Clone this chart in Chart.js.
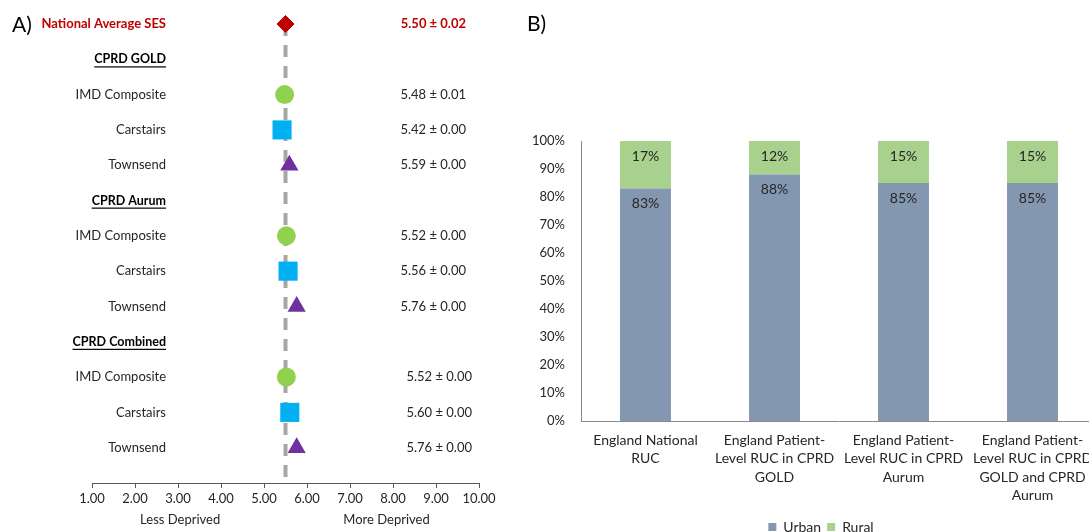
<!DOCTYPE html>
<html>
<head>
<meta charset="utf-8">
<script src="https://cdn.jsdelivr.net/npm/chart.js@4.4.1/dist/chart.umd.min.js"></script>
<style>
  html, body { margin: 0; padding: 0; background: #fff; overflow: hidden; }
  body { width: 1089px; height: 532px; position: relative; font-family: Lato, sans-serif; }
  .panel { position: absolute; top: 0; }
  #wrapA { left: 0; width: 500px; height: 532px; }
  #wrapB { left: 530px; width: 582px; height: 550px; }
  .tag { position: absolute; font: 21px Lato, sans-serif; color: #000; }
</style>
</head>
<body>
<div class="panel" id="wrapA"><canvas id="sesChart"></canvas></div>
<div class="panel" id="wrapB"><canvas id="rucChart"></canvas></div>
<div class="tag" style="left:12px; top:11px">A)</div>
<div class="tag" style="left:527px; top:10px">B)</div>
<script>
// ---- panel A data ----
const rowLabels = [
  "National Average SES",
  "CPRD GOLD", "IMD Composite", "Carstairs", "Townsend",
  "CPRD Aurum", "IMD Composite", "Carstairs", "Townsend",
  "CPRD Combined", "IMD Composite", "Carstairs", "Townsend",
];
const rowKinds = [
  "national",
  "header", "measure", "measure", "measure",
  "header", "measure", "measure", "measure",
  "header", "measure", "measure", "measure",
];
const sesMean = [5.50, null, 5.48, 5.42, 5.59, null, 5.52, 5.56, 5.76, null, 5.52, 5.60, 5.76];
const sesError = [0.02, null, 0.01, 0.00, 0.00, null, 0.00, 0.00, 0.00, null, 0.00, 0.00, 0.00];
const sesTicks = [1, 2, 3, 4, 5, 6, 7, 8, 9, 10];

// ---- panel B data ----
const rucCategories = [
  ["England National", "RUC"],
  ["England Patient-", "Level RUC in CPRD", "GOLD"],
  ["England Patient-", "Level RUC in CPRD", "Aurum"],
  ["England Patient-", "Level RUC in CPRD", "GOLD and CPRD", "Aurum"],
];
const urbanPct = [83, 88, 85, 85];
const ruralPct = [17, 12, 15, 15];
const pctTicks = [0, 10, 20, 30, 40, 50, 60, 70, 80, 90, 100];

Chart.defaults.font.family = "Lato, sans-serif";

// marker look for each measure
const measureStyle = {
  "IMD Composite": { shape: "circle", colour: "#92D050", radius: 9.5 },
  "Carstairs": { shape: "rect", colour: "#00B0F0", radius: 13.5 },
  "Townsend": { shape: "triangle", colour: "#7030A0", radius: 10.5 },
};

function pointsFor(name) {
  const pts = [];
  rowLabels.forEach((l, i) => {
    if (l === name && rowKinds[i] === "measure") pts.push({ x: sesMean[i], y: i });
  });
  return pts;
}

const nationalRow = rowKinds.indexOf("national");
const sesDatasets = [
  {
    label: rowLabels[nationalRow],
    data: [{ x: sesMean[nationalRow], y: nationalRow }],
    pointStyle: "rectRot", pointRadius: 8.5,
    backgroundColor: "#C00000", borderColor: "#C00000",
  },
];
Object.keys(measureStyle).forEach((name) => {
  const st = measureStyle[name];
  sesDatasets.push({
    label: name,
    data: pointsFor(name),
    pointStyle: st.shape, pointRadius: st.radius,
    backgroundColor: st.colour, borderColor: st.colour, borderWidth: 0,
  });
});
// national average reference line (drawn underneath)
sesDatasets.push({
  label: "avg",
  data: [{ x: sesMean[nationalRow], y: 0 }, { x: sesMean[nationalRow], y: rowLabels.length }],
  showLine: true, pointRadius: 0,
  borderColor: "#A6A6A6", borderWidth: 4, borderDash: [12, 9],
});

const sesText = {
  id: "sesText",
  afterDraw(chart) {
    const { ctx, chartArea, scales } = chart;
    const labelRight = chartArea.left + 74;
    const combinedRow = rowLabels.indexOf("CPRD Combined");
    ctx.save();
    ctx.textBaseline = "middle";
    rowLabels.forEach((label, i) => {
      const y = scales.y.getPixelForValue(i);
      const kind = rowKinds[i];
      ctx.textAlign = "right";
      if (kind === "national") {
        ctx.font = "bold 13px Lato";
        ctx.fillStyle = "#C00000";
      } else if (kind === "header") {
        ctx.font = "bold 12.5px Lato";
        ctx.fillStyle = "#000";
      } else {
        ctx.font = "13px Lato";
        ctx.fillStyle = "#262626";
      }
      ctx.fillText(label, labelRight, y);
      if (kind === "header") {
        const w = ctx.measureText(label).width;
        ctx.fillRect(labelRight - w, y + 7, w, 1.2);
      }
      if (sesMean[i] != null) {
        const txt = sesMean[i].toFixed(2) + " \u00B1 " + sesError[i].toFixed(2);
        const right = chartArea.left + (i > combinedRow ? 380 : 374);
        ctx.fillText(txt, right, y);
      }
    });
    ctx.font = "13px Lato";
    ctx.fillStyle = "#262626";
    ctx.textAlign = "center";
    ctx.fillText("Less Deprived", scales.x.getPixelForValue(3.05), 520);
    ctx.fillText("More Deprived", scales.x.getPixelForValue(7.85), 520);
    ctx.restore();
  },
};

new Chart(document.getElementById("sesChart"), {
  type: "scatter",
  data: { datasets: sesDatasets },
  options: {
    responsive: true,
    maintainAspectRatio: false,
    animation: false,
    clip: false,
    layout: { padding: { left: 92, right: 21, top: 24, bottom: 0 } },
    scales: {
      x: {
        type: "linear", min: sesTicks[0], max: sesTicks[sesTicks.length - 1],
        afterBuildTicks(s) { s.ticks = sesTicks.map((v) => ({ value: v })); },
        ticks: { callback: (v) => Number(v).toFixed(2), color: "#262626", font: { size: 13 }, padding: 3, maxRotation: 0 },
        grid: { drawOnChartArea: false, drawTicks: true, tickLength: 5, color: "#595959" },
        border: { color: "#595959", width: 1 },
        afterFit(s) { s.height = 49; },
      },
      y: { type: "linear", reverse: true, min: 0, max: rowLabels.length, display: false },
    },
    plugins: { legend: { display: false }, tooltip: { enabled: false } },
  },
  plugins: [sesText],
});

// ---- panel B ----
const barValues = {
  id: "barValues",
  afterDatasetsDraw(chart) {
    const { ctx } = chart;
    ctx.save();
    ctx.font = "14px Lato";
    ctx.fillStyle = "#262626";
    ctx.textAlign = "center";
    ctx.textBaseline = "middle";
    chart.data.datasets.forEach((ds, di) => {
      chart.getDatasetMeta(di).data.forEach((bar, i) => {
        ctx.fillText(ds.data[i] + "%", bar.x, bar.y + 15);
      });
    });
    ctx.restore();
  },
};

new Chart(document.getElementById("rucChart"), {
  type: "bar",
  data: {
    labels: rucCategories,
    datasets: [
      { label: "Urban", data: urbanPct, backgroundColor: "#8497B0" },
      { label: "Rural", data: ruralPct, backgroundColor: "#A9D18E" },
    ],
  },
  options: {
    responsive: true,
    maintainAspectRatio: false,
    animation: false,
    datasets: { bar: { categoryPercentage: 1, barPercentage: 0.395 } },
    layout: { padding: { left: 0, right: 0, top: 141, bottom: 6 } },
    scales: {
      x: {
        stacked: true,
        grid: { display: false, drawTicks: false, tickLength: 0 },
        border: { color: "#898989" },
        ticks: { color: "#262626", font: { size: 14, lineHeight: 1.32 }, padding: 10, maxRotation: 0, autoSkip: false },
        afterFit(s) { s.height = 93; },
      },
      y: {
        stacked: true, min: 0, max: 100,
        afterBuildTicks(s) { s.ticks = pctTicks.map((v) => ({ value: v })); },
        ticks: { callback: (v) => v + "%", color: "#262626", font: { size: 13 }, padding: 16 },
        grid: { display: false, drawTicks: false, tickLength: 0 },
        border: { color: "#898989" },
        afterFit(s) { s.width = 51; },
      },
      yPad: {
        position: "right", display: true,
        grid: { display: false, drawTicks: false },
        border: { display: false },
        ticks: { display: false },
        afterFit(s) { s.width = 15; },
      },
    },
    plugins: {
      legend: {
        position: "bottom",
        labels: { boxWidth: 8, boxHeight: 8, color: "#262626", font: { size: 14 }, padding: 6 },
      },
      tooltip: { enabled: false },
    },
  },
  plugins: [barValues],
});
</script>
</body>
</html>
